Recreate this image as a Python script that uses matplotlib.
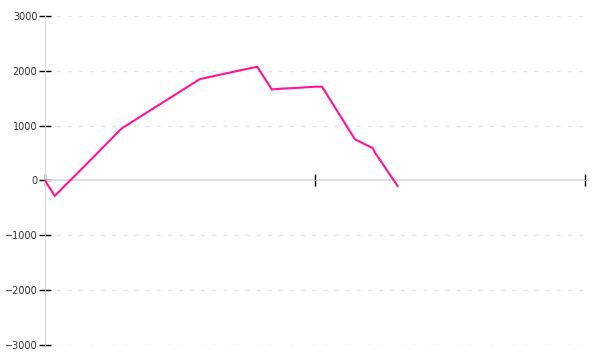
import matplotlib
matplotlib.use("Agg")
import matplotlib.pyplot as plt

x_vals = [0, 1.8, 8.0, 14.2, 28.7, 39.3, 42.0, 43.9, 46.9, 50.0, 51.3, 57.4, 60.7, 61.1, 65.3]
y_vals = [0, -280, 330, 950, 1850, 2075, 1660, 1675, 1690, 1710, 1710, 750, 590, 510, -100]
y_ticks = [-3000, -2000, -1000, 0, 1000, 2000, 3000]
x_ticks = [0, 50, 100]

fig = plt.figure(figsize=(6, 3.6), dpi=100)
ax = fig.add_axes([0.075, 0.0417, 0.9, 0.9139])
ax.set_xlim(0, 100)
ax.set_ylim(-3000, 3000)

for yv in y_ticks:
    if yv != 0:
        ax.axhline(yv, color="#e6e6e6", lw=1, ls=(0, (3, 5)), zorder=0)
ax.axhline(0, color="#dddddd", lw=1.2, zorder=1)

ax.plot(x_vals, y_vals, color="#ff1493", lw=1.5, zorder=3, solid_joinstyle="miter")

for s in ["top", "right", "bottom"]:
    ax.spines[s].set_visible(False)
ax.spines["left"].set_color("#dddddd")
ax.spines["left"].set_linewidth(1)

ax.set_yticks(y_ticks)
ax.set_yticklabels([str(v).replace("-", "\u2212") for v in y_ticks])
ax.tick_params(axis="y", direction="inout", length=9, width=1, color="black",
               labelsize=7, labelcolor="#333333", pad=1)
ax.set_xticks(x_ticks)
ax.set_xticklabels([])
ax.tick_params(axis="x", direction="inout", length=9, width=1, color="black")
# move x ticks to the zero line
ax.spines["bottom"].set_position(("data", 0))
ax.spines["bottom"].set_visible(True)
ax.spines["bottom"].set_color("#dddddd")

fig.savefig("out.png", dpi=100)
